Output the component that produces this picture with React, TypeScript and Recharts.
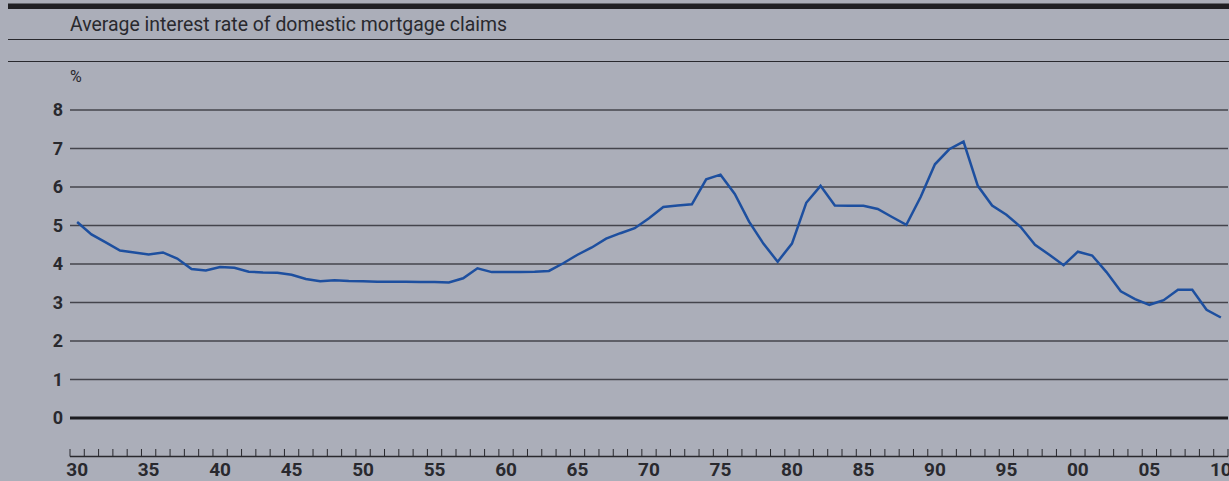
import { LineChart, Line, XAxis, YAxis, CartesianGrid, ReferenceLine } from "recharts";

const years = [
  1930, 1931, 1932, 1933, 1934, 1935, 1936, 1937, 1938, 1939,
  1940, 1941, 1942, 1943, 1944, 1945, 1946, 1947, 1948, 1949,
  1950, 1951, 1952, 1953, 1954, 1955, 1956, 1957, 1958, 1959,
  1960, 1961, 1962, 1963, 1964, 1965, 1966, 1967, 1968, 1969,
  1970, 1971, 1972, 1973, 1974, 1975, 1976, 1977, 1978, 1979,
  1980, 1981, 1982, 1983, 1984, 1985, 1986, 1987, 1988, 1989,
  1990, 1991, 1992, 1993, 1994, 1995, 1996, 1997, 1998, 1999,
  2000, 2001, 2002, 2003, 2004, 2005, 2006, 2007, 2008, 2009,
  2010,
];

const rates = [
  5.09, 4.77, 4.56, 4.35, 4.3, 4.25, 4.3, 4.14, 3.87, 3.83,
  3.92, 3.9, 3.8, 3.78, 3.77, 3.72, 3.61, 3.55, 3.58, 3.56,
  3.55, 3.54, 3.54, 3.54, 3.53, 3.53, 3.52, 3.63, 3.89, 3.79,
  3.79, 3.79, 3.8, 3.82, 4.02, 4.24, 4.43, 4.66, 4.8, 4.93,
  5.19, 5.48, 5.52, 5.55, 6.2, 6.32, 5.82, 5.1, 4.53, 4.06,
  4.53, 5.59, 6.03, 5.52, 5.51, 5.51, 5.43, 5.22, 5.02, 5.74,
  6.59, 6.98, 7.18, 6.03, 5.52, 5.28, 4.96, 4.5, 4.24, 3.97,
  4.32, 4.22, 3.79, 3.29, 3.09, 2.94, 3.06, 3.33, 3.33, 2.81,
  2.61,
];

const yTicks = [0, 1, 2, 3, 4, 5, 6, 7, 8];
const labelYears = [1930, 1935, 1940, 1945, 1950, 1955, 1960, 1965, 1970, 1975, 1980, 1985, 1990, 1995, 2000, 2005, 2010];

// one small tick at each year boundary
const yearEdges = [...years.map(y => y - 0.5), years[years.length - 1] + 0.5];

const data = years.map((year, i) => ({ year, rate: rates[i] }));

const BG = "#abaeb9";
const INK = "#29292e";
const FONT = "Roboto, 'DejaVu Sans', sans-serif";

const XTick = ({ x, y, payload }: any) => {
  const v = payload.value;
  if (Number.isInteger(v)) {
    return (
      <text x={x} y={y + 58} textAnchor="middle" fontSize={19} fontWeight={700} fill={INK} fontFamily={FONT}>
        {String(v % 100).padStart(2, "0")}
      </text>
    );
  }
  return <line x1={x} x2={x} y1={y + 31} y2={y + 38.5} stroke={INK} strokeWidth={1} />;
};

export default function App() {
  return (
    <div style={{ position: "absolute", left: 0, top: 0, width: 1229, height: 481, background: BG, overflow: "hidden" }}>
      <svg width={1229} height={481} style={{ position: "absolute", left: 0, top: 0 }}>
        <rect x={8} y={3.5} width={1221} height={5.5} fill="#202024" />
        <text x={70} y={31} fontSize={20} fill={INK} fontFamily={FONT} textLength={437} lengthAdjust="spacingAndGlyphs">
          Average interest rate of domestic mortgage claims
        </text>
        <line x1={8} x2={1229} y1={39.5} y2={39.5} stroke={INK} strokeWidth={1.2} />
        <line x1={8} x2={1229} y1={61.5} y2={61.5} stroke={INK} strokeWidth={1.2} />
        <text x={70} y={82} fontSize={16} fill={INK} fontFamily={FONT}>%</text>
        <line x1={70} x2={1228} y1={456.5} y2={456.5} stroke={INK} strokeWidth={1.5} />
      </svg>
      <div style={{ position: "absolute", left: 0, top: 0 }}>
        <LineChart width={1229} height={481} data={data} margin={{ top: 110, right: 1, bottom: 0, left: 0 }}>
          <CartesianGrid vertical={false} stroke="#44444c" strokeWidth={1.5} />
          <XAxis
            dataKey="year"
            type="number"
            domain={[1929.5, 2010.5]}
            ticks={[...yearEdges, ...labelYears]}
            interval={0}
            tickLine={false}
            axisLine={false}
            tickSize={0}
            tickMargin={0}
            height={63}
            tick={<XTick />}
          />
          <YAxis
            domain={[0, 8]}
            ticks={yTicks}
            interval={0}
            width={70}
            tickLine={false}
            axisLine={false}
            tickSize={0}
            tickMargin={7}
            tick={{ fontSize: 18, fontWeight: 700, fill: INK, fontFamily: FONT }}
          />
          <ReferenceLine y={0} stroke="#1c1c20" strokeWidth={3} />
          <Line dataKey="rate" type="linear" stroke="#1d4f9f" strokeWidth={2.5} dot={false} isAnimationActive={false} />
        </LineChart>
      </div>
    </div>
  );
}
